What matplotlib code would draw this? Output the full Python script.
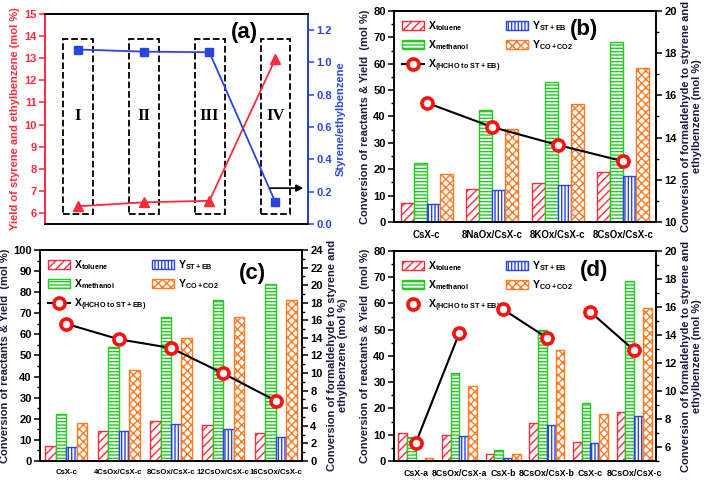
import numpy as np
import matplotlib
matplotlib.use('Agg')
import matplotlib.pyplot as plt
from matplotlib.patches import Rectangle
from matplotlib.lines import Line2D
from matplotlib.ticker import MultipleLocator, FormatStrFormatter

plt.rcParams['font.family'] = ['Liberation Sans', 'DejaVu Sans']
plt.rcParams['font.weight'] = 'bold'
plt.rcParams['mathtext.fontset'] = 'custom'
plt.rcParams['mathtext.rm'] = 'Liberation Sans:bold'
plt.rcParams['mathtext.it'] = 'Liberation Sans:bold'
plt.rcParams['mathtext.bf'] = 'Liberation Sans:bold'
plt.rcParams['hatch.linewidth'] = 1.0

# ---- panel (a) data
a_stage = ['I', 'II', 'III', 'IV']
a_yield = [6.3, 6.48, 6.55, 12.95]
a_ratio = [1.08, 1.067, 1.063, 0.138]

# ---- panel (b) data
b_cats = ['CsX-c', '8NaOx/CsX-c', '8KOx/CsX-c', '8CsOx/CsX-c']
b_tol = [7.2, 12.4, 14.8, 19.0]
b_meth = [22.3, 42.4, 53.2, 68.3]
b_st = [6.8, 12.1, 14.2, 17.4]
b_co = [18.1, 35.1, 44.6, 58.2]
b_hcho = [15.65, 14.5, 13.65, 12.88]

# ---- panel (c) data
c_cats = ['CsX-c', '4CsOx/CsX-c', '8CsOx/CsX-c', '12CsOx/CsX-c', '16CsOx/CsX-c']
c_tol = [7.1, 14.2, 19.0, 17.0, 13.4]
c_meth = [22.3, 53.8, 68.4, 76.5, 84.0]
c_st = [6.8, 14.2, 17.4, 15.2, 11.5]
c_co = [18.2, 43.3, 58.3, 68.0, 76.5]
c_hcho = [15.6, 13.85, 12.85, 9.95, 6.85]

# ---- panel (d) data
d_cats = ['CsX-a', '8CsOx/CsX-a', 'CsX-b', '8CsOx/CsX-b', 'CsX-c', '8CsOx/CsX-c']
d_tol = [10.5, 9.9, 2.7, 14.4, 7.1, 18.8]
d_meth = [9.0, 33.7, 4.1, 49.8, 22.2, 68.4]
d_st = [0.0, 9.5, 1.0, 13.7, 6.7, 17.3]
d_co = [1.3, 28.6, 2.6, 42.2, 18.0, 58.2]
d_hcho = [6.3, 14.17, 15.83, 13.8, 15.64, 12.9]

RED = '#ff2a3c'
GREEN = '#1fcc1f'
BLUE = '#2a44e0'
ORANGE = '#ff7a22'
NAVY = '#1a1a44'

fig = plt.figure(figsize=(7.08, 4.82), dpi=100)


def style_ax(ax):
    for s in ax.spines.values():
        s.set_linewidth(1.2)
    ax.tick_params(axis='y', which='major', direction='out', length=4, width=1.1, labelsize=8, pad=2)
    ax.tick_params(axis='y', which='minor', direction='out', length=2.5, width=1.0)


def bar_panel(rect, cats, tol, meth, st, co, hcho, ylim, rlim, rmaj, lmaj, catsize, tag, tagpos, pairs=False):
    ax = fig.add_axes(rect)
    x = np.arange(len(cats))
    w = 0.2
    b1 = ax.bar(x - 1.5 * w, tol, w, facecolor='white', edgecolor=RED, hatch='////', lw=1.0)
    b2 = ax.bar(x - 0.5 * w, meth, w, facecolor='white', edgecolor=GREEN, hatch='-----', lw=1.0)
    b3 = ax.bar(x + 0.5 * w, st, w, facecolor='white', edgecolor=BLUE, hatch='|||||', lw=1.0)
    b4 = ax.bar(x + 1.5 * w, co, w, facecolor='white', edgecolor=ORANGE, hatch='xxxx', lw=1.0)
    ax.set_xlim(-0.5, len(cats) - 0.5)
    ax.set_ylim(*ylim)
    ax.set_xticks(x)
    ax.set_xticklabels(cats, fontsize=catsize, fontweight='bold')
    ax.tick_params(axis='x', length=0, pad=6)
    ax.yaxis.set_major_locator(MultipleLocator(lmaj))
    ax.yaxis.set_minor_locator(MultipleLocator(lmaj / 2))
    style_ax(ax)
    ax.set_ylabel('Conversion of reactants & Yield  (mol %)', fontsize=8, fontweight='bold', color=NAVY, labelpad=2)

    ax2 = ax.twinx()
    if pairs:
        for k in range(0, len(cats), 2):
            ax2.plot(x[k:k + 2], hcho[k:k + 2], '-', color='black', lw=1.5, zorder=3)
        ax2.plot(x, hcho, 'o', ls='none', mfc='white', mec='#ff1010', mew=2.6, ms=8, zorder=4)
        hl = Line2D([], [], ls='none', marker='o', mfc='white', mec='#ff1010', mew=2.6, ms=8)
    else:
        ax2.plot(x, hcho, '-o', color='black', lw=1.5, mfc='white', mec='#ff1010', mew=2.6, ms=8)
        hl = Line2D([], [], color='black', lw=1.5, marker='o', mfc='white', mec='#ff1010', mew=2.6, ms=8)
    ax2.set_ylim(*rlim)
    ax2.yaxis.set_major_locator(MultipleLocator(rmaj))
    ax2.yaxis.set_minor_locator(MultipleLocator(rmaj / 2))
    style_ax(ax2)
    ax2.set_ylabel('Conversion of formaldehyde to styrene and\nethylbenzene (mol %)', fontsize=8,
                   fontweight='bold', color=NAVY, labelpad=3, linespacing=1.1)

    ax.legend([b1, b2, hl, b3, b4],
              [r'X$_{\mathrm{toluene}}$', r'X$_{\mathrm{methanol}}$', r'X$_{\mathrm{(HCHO\ to\ ST+EB)}}$',
               r'Y$_{\mathrm{ST+EB}}$', r'Y$_{\mathrm{CO+CO2}}$'],
              loc='upper left', ncol=2, frameon=False, fontsize=7.5, handlelength=2.1,
              handleheight=0.95, columnspacing=0.5, labelspacing=0.5, handletextpad=0.4,
              borderaxespad=0.4)
    ax.text(tagpos[0], tagpos[1], tag, transform=ax.transAxes, fontsize=16, fontweight='bold',
            ha='center', va='center')
    return ax, ax2


# ---- panel (a)
axa = fig.add_axes([0.0636, 0.5353, 0.3715, 0.4357])
xa = np.arange(1, 5)
axa.plot(xa, a_yield, '-^', color=RED, lw=1.3, ms=7)
axa.set_xlim(0.5, 4.5)
axa.set_ylim(5.5, 15)
axa.set_yticks(np.arange(6, 16, 1))
axa.set_xticks([])
style_ax(axa)
axa.spines['left'].set_color(RED)
axa.tick_params(axis='y', colors=RED)
axa.set_ylabel('Yield of styrene and ethylbenzene (mol %)', fontsize=8, fontweight='bold', color=RED, labelpad=3)
for xi, s in zip(xa, a_stage):
    axa.add_patch(Rectangle((xi - 0.22, 5.95), 0.45, 7.9, fill=False, ls='--', lw=1.3, ec='black'))
    axa.text(xi, 10.4, s, fontsize=12, fontweight='bold', family='Liberation Serif', ha='center', va='center')
axa.text(0.76, 0.91, '(a)', transform=axa.transAxes, fontsize=16, fontweight='bold', ha='center', va='center')

axa2 = axa.twinx()
axa2.plot(xa, a_ratio, '-s', color=BLUE, lw=1.3, ms=5.5)
axa2.set_ylim(0, 1.3)
axa2.set_yticks(np.arange(0, 1.21, 0.2))
axa2.yaxis.set_major_formatter(FormatStrFormatter('%.1f'))
style_ax(axa2)
axa2.spines['right'].set_color(BLUE)
axa2.spines['left'].set_color(RED)
axa2.tick_params(axis='y', colors=BLUE)
axa2.set_ylabel('Styrene/ethylbenzene', fontsize=8, fontweight='bold', color=BLUE, labelpad=3)
axa2.annotate('', xy=(4.47, 0.222), xytext=(3.88, 0.222),
              arrowprops=dict(arrowstyle='-|>', color='black', lw=1.2, mutation_scale=10))

# ---- panels (b), (c), (d)
bar_panel([0.5565, 0.5394, 0.370, 0.4378], b_cats, b_tol, b_meth, b_st, b_co, b_hcho,
          (0, 80), (10, 20), 2, 10, 7, '(b)', (0.725, 0.914))
bar_panel([0.0565, 0.0436, 0.370, 0.4378], c_cats, c_tol, c_meth, c_st, c_co, c_hcho,
          (0, 100), (0, 24), 2, 10, 5.6, '(c)', (0.81, 0.89))
bar_panel([0.5565, 0.0436, 0.370, 0.4357], d_cats, d_tol, d_meth, d_st, d_co, d_hcho,
          (0, 80), (5, 20), 2, 10, 6.4, '(d)', (0.763, 0.905), pairs=True)

fig.savefig('out.png', dpi=100)
